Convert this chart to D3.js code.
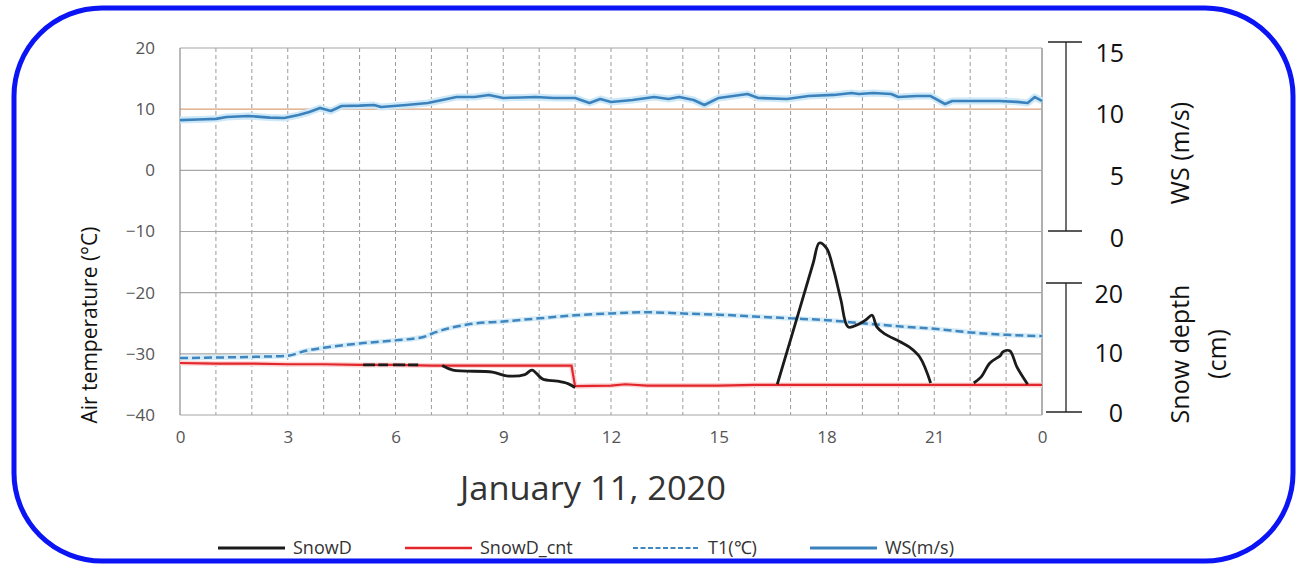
<!DOCTYPE html>
<html><head><meta charset="utf-8">
<script src="https://cdn.jsdelivr.net/npm/d3@7"></script>
<style>
html,body{margin:0;padding:0;background:#fff;}
svg{display:block;}
text{font-family:"Liberation Sans Narrow","Open Sans",sans-serif;}
</style></head>
<body>
<svg id="chart" width="1298" height="567"></svg>
<script>
// ---- data ----
const tempTicks = [-40, -30, -20, -10, 0, 10, 20];
const hourTicks = [0, 3, 6, 9, 12, 15, 18, 21, 24];
const wsTicks = [0, 5, 10, 15];
const snowTicks = [0, 10, 20];

const t1Hours = [0,1,2,3,3.5,4,5,6,6.8,7.1,8,9,10,11,12,13,14,15,16,17,18,19,20,21,22,23,24];
const t1Values = [-30.7,-30.6,-30.5,-30.3,-29.5,-29.0,-28.3,-27.8,-27.2,-26.5,-25.2,-24.7,-24.2,-23.7,-23.4,-23.2,-23.4,-23.6,-23.9,-24.2,-24.5,-25.0,-25.5,-25.9,-26.5,-26.9,-27.1];

const wsHours = [0,0.5,1.0,1.3,1.9,2.5,2.9,3.3,3.6,3.9,4.2,4.5,5.0,5.4,5.6,6.3,6.9,7.3,7.7,8.2,8.6,9.0,9.5,9.9,10.4,11.0,11.4,11.7,12.0,12.6,13.2,13.6,13.9,14.3,14.6,15.0,15.8,16.1,16.9,17.5,18.2,18.7,18.9,19.3,19.8,20.0,20.5,20.9,21.3,21.5,22.2,22.8,23.3,23.6,23.8,24.0];
const wsValues = [8.8,8.85,8.9,9.05,9.13,9.0,8.97,9.2,9.44,9.76,9.52,9.92,9.95,10.0,9.84,10.0,10.16,10.4,10.63,10.63,10.79,10.56,10.6,10.63,10.56,10.56,10.16,10.48,10.24,10.40,10.63,10.48,10.63,10.40,10.0,10.56,10.87,10.56,10.48,10.71,10.8,10.95,10.87,10.95,10.87,10.63,10.71,10.71,10.08,10.32,10.32,10.32,10.25,10.16,10.63,10.32];

const cntHours = [0,1,2,3,4,5,6,7,8,9,10,10.9,11.0,12,12.4,13,14,15,16,17,18,19,20,21,22,23,24];
const cntValues = [7.6,7.5,7.5,7.4,7.4,7.3,7.3,7.2,7.2,7.2,7.2,7.2,4.0,4.1,4.3,4.1,4.1,4.1,4.2,4.2,4.2,4.2,4.2,4.2,4.2,4.2,4.2];

// SnowD (null = missing)
const snowHours = [5.1,5.43,5.44,5.52,5.79,5.8,5.93,6.27,6.28,6.35,6.63,6.64,
  7.3,7.6,8.7,9.1,9.6,9.8,10.1,10.5,10.8,11.0,11.01,
  16.63,17.27,17.63,17.8,18.0,18.2,18.4,18.6,18.85,19.1,19.27,19.4,19.6,20.05,20.3,20.6,20.9,20.91,
  22.1,22.3,22.55,22.85,22.9,23.1,23.3,23.6];
const snowValues = [7.3,7.3,null,7.3,7.3,null,7.3,7.3,null,7.3,7.3,null,
  7.2,6.5,6.2,5.6,5.8,6.5,5.1,4.8,4.4,3.8,null,
  4.3,16.3,23.1,26.2,25.4,22.0,17.4,13.2,13.5,14.3,15.0,13.2,12.2,10.9,10.1,8.5,4.5,null,
  4.5,5.4,7.6,8.8,9.3,9.5,7.0,4.3];

const legendNames = ["SnowD", "SnowD_cnt", "T1(℃)", "WS(m/s)"];

// ---- scales ----
const svg = d3.select("#chart");
const x = d3.scaleLinear([0, 24], [180, 1042]);
const yT = d3.scaleLinear([-40, 20], [415, 48]);
const yWS = d3.scaleLinear([0, 15], [231, 42]);
const ySnow = d3.scaleLinear([0, 20], [412, 283]);
const wsLabel = d3.scaleLinear([0, 15], [238, 53]);
const snowLabel = d3.scaleLinear([0, 20], [413, 294]);

// frame
svg.append("rect").attr("x", 14).attr("y", 8).attr("width", 1279).attr("height", 553)
  .attr("rx", 88).attr("ry", 88).attr("fill", "#fff").attr("stroke", "#0a14f5").attr("stroke-width", 5);

// gridlines
const grid = svg.append("g");
grid.selectAll("line.v").data(d3.range(1, 25)).join("line")
  .attr("x1", d => x(d)).attr("x2", d => x(d)).attr("y1", yT(20)).attr("y2", yT(-40))
  .attr("stroke", "#9a9a9a").attr("stroke-width", 1).attr("stroke-dasharray", "4,3");
grid.selectAll("line.h").data(tempTicks).join("line")
  .attr("x1", x(0)).attr("x2", x(24)).attr("y1", d => yT(d)).attr("y2", d => yT(d))
  .attr("stroke", d => d === 10 ? "#d9a07a" : "#a6a6a6").attr("stroke-width", 1.2);
grid.append("line").attr("x1", x(0)).attr("x2", x(0)).attr("y1", yT(20)).attr("y2", yT(-40))
  .attr("stroke", "#8c8c8c").attr("stroke-width", 1.2);
grid.append("line").attr("x1", x(24)).attr("x2", x(24)).attr("y1", yT(20)).attr("y2", yT(-40))
  .attr("stroke", "#b0b0b0").attr("stroke-width", 2);

// left axis
const gL = svg.append("g").attr("transform", `translate(${x(0)},0)`)
  .call(d3.axisLeft(yT).tickValues(tempTicks).tickSize(0).tickPadding(25));
gL.select(".domain").remove();
gL.selectAll("text").attr("font-size", 17).attr("fill", "#555");

// bottom axis
const gB = svg.append("g").attr("transform", `translate(0,${yT(-40)})`)
  .call(d3.axisBottom(x).tickValues(hourTicks).tickFormat(d => d % 24).tickSize(0).tickPadding(16));
gB.select(".domain").remove();
gB.selectAll("text").attr("font-size", 17).attr("fill", "#555");

// right WS axis
const axX = 1066;
svg.append("line").attr("x1", axX).attr("x2", axX).attr("y1", yWS(15)).attr("y2", yWS(0)).attr("stroke", "#222").attr("stroke-width", 1.3);
svg.selectAll("line.wst").data([0, 15]).join("line")
  .attr("x1", 1048).attr("x2", 1082).attr("y1", d => yWS(d)).attr("y2", d => yWS(d)).attr("stroke", "#222").attr("stroke-width", 1.3);
const gW = svg.append("g").attr("transform", `translate(${axX},0)`)
  .call(d3.axisRight(wsLabel).tickValues(wsTicks).tickSize(0));
gW.select(".domain").remove();
gW.selectAll("text").attr("x", 58).attr("text-anchor", "end").attr("font-size", 25).attr("fill", "#111")
  .style("font-family", "'Open Sans',sans-serif");

// right snow axis
svg.append("line").attr("x1", axX).attr("x2", axX).attr("y1", ySnow(20)).attr("y2", ySnow(0)).attr("stroke", "#222").attr("stroke-width", 1.3);
svg.selectAll("line.snt").data([0, 20]).join("line")
  .attr("x1", 1046).attr("x2", 1082).attr("y1", d => ySnow(d)).attr("y2", d => ySnow(d)).attr("stroke", "#222").attr("stroke-width", 1.3);
const gS = svg.append("g").attr("transform", `translate(${axX},0)`)
  .call(d3.axisRight(snowLabel).tickValues(snowTicks).tickSize(0));
gS.select(".domain").remove();
gS.selectAll("text").attr("x", 57).attr("text-anchor", "end").attr("font-size", 25).attr("fill", "#111")
  .style("font-family", "'Open Sans',sans-serif");

// axis titles
svg.append("text").attr("transform", "translate(97,325) rotate(-90)").attr("text-anchor", "middle")
  .attr("font-size", 21).attr("fill", "#111").style("font-family", "'Open Sans',sans-serif").text("Air temperature (°C)");
svg.append("text").attr("transform", "translate(1189,153) rotate(-90)").attr("text-anchor", "middle")
  .attr("font-size", 25).attr("fill", "#111").style("font-family", "'Open Sans',sans-serif").text("WS (m/s)");
svg.append("text").attr("transform", "translate(1189,354) rotate(-90)").attr("text-anchor", "middle")
  .attr("font-size", 25).attr("fill", "#111").style("font-family", "'Open Sans',sans-serif").text("Snow depth");
svg.append("text").attr("transform", "translate(1226,354) rotate(-90)").attr("text-anchor", "middle")
  .attr("font-size", 25).attr("fill", "#111").style("font-family", "'Open Sans',sans-serif").text("(cm)");
svg.append("text").attr("x", 593).attr("y", 500).attr("text-anchor", "middle")
  .attr("font-size", 32).attr("fill", "#333").style("font-family", "'Open Sans',sans-serif")
  .attr("textLength", 266).attr("lengthAdjust", "spacingAndGlyphs").text("January 11, 2020");

// series
const plot = svg.append("g");
const lineT = d3.line().curve(d3.curveMonotoneX).x((d, i) => x(t1Hours[i])).y(d => yT(d));
plot.append("path").attr("d", lineT(t1Values)).attr("fill", "none")
  .attr("stroke", "#d6ecf8").attr("stroke-width", 5);
plot.append("path").attr("d", lineT(t1Values)).attr("fill", "none")
  .attr("stroke", "#3f86bf").attr("stroke-width", 2.5).attr("stroke-dasharray", "8,4");

const lineW = d3.line().x((d, i) => x(wsHours[i])).y(d => yWS(d));
plot.append("path").attr("d", lineW(wsValues)).attr("fill", "none")
  .attr("stroke", "#cde8f8").attr("stroke-width", 7).attr("stroke-linejoin", "round");
plot.append("path").attr("d", lineW(wsValues)).attr("fill", "none")
  .attr("stroke", "#3b82bd").attr("stroke-width", 2.6).attr("stroke-linejoin", "round");

const lineC = d3.line().x((d, i) => x(cntHours[i])).y(d => ySnow(d));
plot.append("path").attr("d", lineC(cntValues)).attr("fill", "none")
  .attr("stroke", "#fbd3d3").attr("stroke-width", 5);
plot.append("path").attr("d", lineC(cntValues)).attr("fill", "none")
  .attr("stroke", "#e3262b").attr("stroke-width", 2.2);

const lineS = d3.line().defined(d => d !== null).curve(d3.curveCatmullRom.alpha(0.5))
  .x((d, i) => x(snowHours[i])).y(d => ySnow(d));
plot.append("path").attr("d", lineS(snowValues)).attr("fill", "none")
  .attr("stroke", "#1b1b1b").attr("stroke-width", 2.8).attr("stroke-linejoin", "round");

// legend
const legendX = [218, 405, 633, 810];
const lg = svg.append("g");
const ly = 548;
legendNames.forEach((name, i) => {
  const lx = legendX[i];
  const ln = lg.append("line").attr("x1", lx).attr("x2", lx + 67).attr("y1", ly).attr("y2", ly);
  if (i === 0) ln.attr("stroke", "#1b1b1b").attr("stroke-width", 3);
  if (i === 1) ln.attr("stroke", "#e3262b").attr("stroke-width", 2.5);
  if (i === 2) ln.attr("stroke", "#3f86bf").attr("stroke-width", 2.2).attr("stroke-dasharray", "5,2.5");
  if (i === 3) ln.attr("stroke", "#3b82bd").attr("stroke-width", 2.8);
  lg.append("text").attr("x", lx + 75).attr("y", ly + 6).attr("font-size", 18).attr("fill", "#333").text(name);
});
</script>
</body></html>
